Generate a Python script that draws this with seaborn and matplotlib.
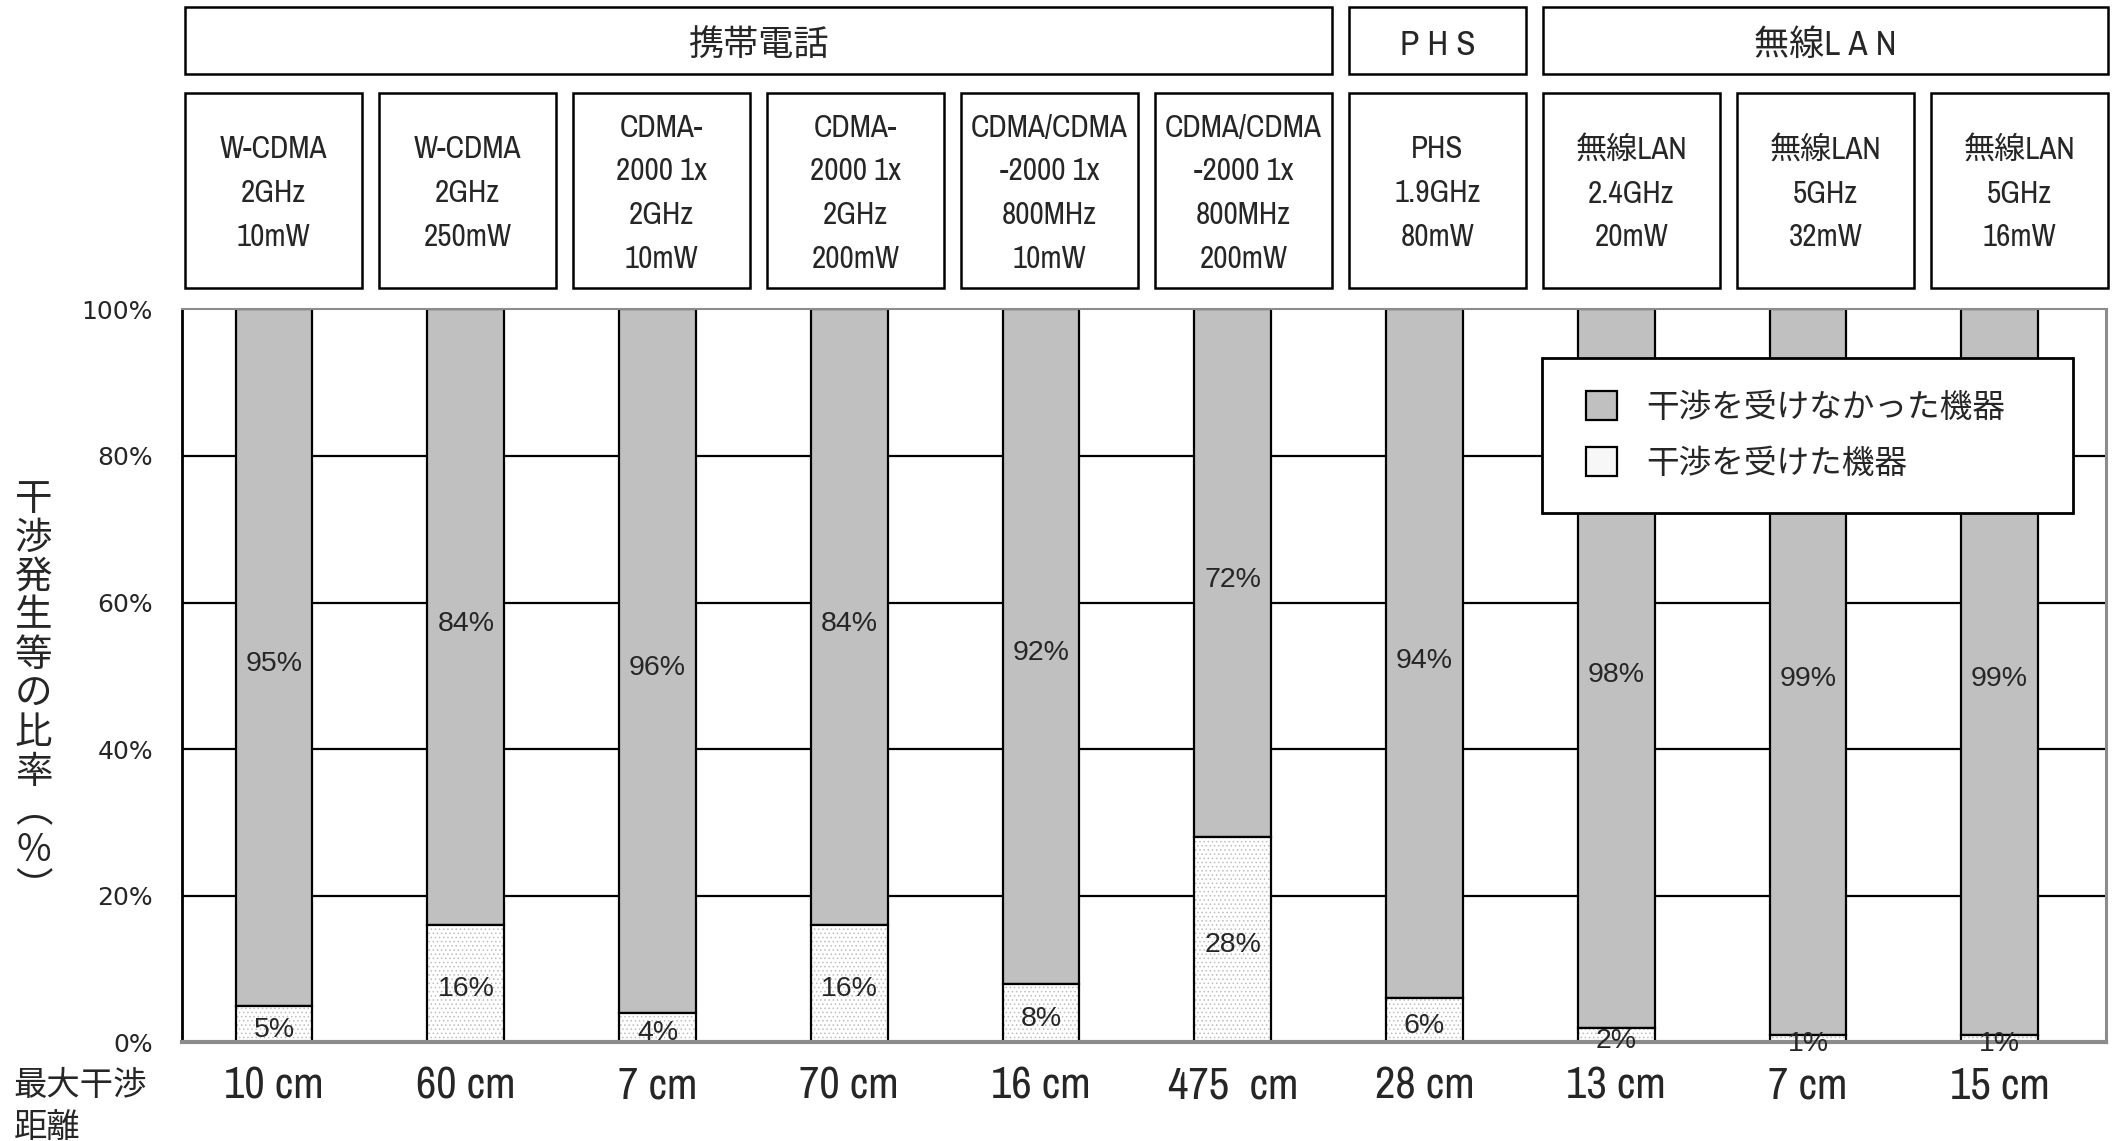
import numpy as np
import pandas as pd
import matplotlib
matplotlib.use("Agg")
import matplotlib.pyplot as plt
import seaborn as sns
from matplotlib import font_manager
from matplotlib.font_manager import FontProperties
from matplotlib.legend_handler import HandlerPatch
from matplotlib.patches import Patch, Rectangle

# ---- data -------------------------------------------------------------
devices = [
    "W-CDMA\n2GHz\n10mW",
    "W-CDMA\n2GHz\n250mW",
    "CDMA-\n2000 1x\n2GHz\n10mW",
    "CDMA-\n2000 1x\n2GHz\n200mW",
    "CDMA/CDMA\n-2000 1x\n800MHz\n10mW",
    "CDMA/CDMA\n-2000 1x\n800MHz\n200mW",
    "PHS\n1.9GHz\n80mW",
    "無線LAN\n2.4GHz\n20mW",
    "無線LAN\n5GHz\n32mW",
    "無線LAN\n5GHz\n16mW",
]
groups = ["携帯電話", "P H S", "無線L A N"]
group_first = [0, 6, 7]
group_last = [5, 6, 9]
distances = ["10 cm", "60 cm", "7 cm", "70 cm", "16 cm", "475  cm",
             "28 cm", "13 cm", "7 cm", "15 cm"]
not_interfered = [95, 84, 96, 84, 92, 72, 94, 98, 99, 99]
interfered = [5, 16, 4, 16, 8, 28, 6, 2, 1, 1]
yticks = [0, 20, 40, 60, 80, 100]
ytick_labels = [f"{v}%" for v in yticks]
series_labels = ["干渉を受けなかった機器", "干渉を受けた機器"]
ylabel_text = "干渉発生等の比率（%）"
distance_title = "最大干渉\n距離"

# ---- fonts ------------------------------------------------------------
CJK = "Noto Sans CJK JP"
_entries = font_manager.fontManager.ttflist
_installed = {f.name for f in _entries}


def families(*names):
    return [n for n in names if n in _installed]


def find_condensed():
    for f in _entries:
        if "Narrow" in f.name or "Condensed" in f.name:
            return f.name, "normal"
    for f in _entries:
        st = f.stretch
        if (isinstance(st, str) and "condensed" in st) or \
                (isinstance(st, (int, float)) and st < 500):
            return f.name, st
    return None


_cond = find_condensed()
PLAIN = families("Liberation Sans", "DejaVu Sans") + [CJK]
if _cond is not None:
    NARROW = FontProperties(family=[_cond[0], CJK], stretch=_cond[1])
    narrow_scale = 1.15
else:
    NARROW = FontProperties(family=PLAIN)
    narrow_scale = 1.0


def narrow(size):
    fp = NARROW.copy()
    fp.set_size(size * narrow_scale)
    return fp


sns.set_theme(style="white")
plt.rcParams["font.family"] = ["DejaVu Sans", CJK]
plt.rcParams["hatch.linewidth"] = 0.6

GREY = "#c0c0c0"

df = pd.DataFrame({
    "device": devices,
    "distance": distances,
    "not_interfered": not_interfered,
    "interfered": interfered,
})

# ---- layout (units of a 1568 x 845 grid) -------------------------------
GW, GH = 1568.0, 845.0


def fx(u):
    return u / GW


def fy(v):
    return 1.0 - v / GH


fig = plt.figure(figsize=(21.17, 11.41), dpi=100)
ax = fig.add_axes([fx(135), fy(772), fx(1560) - fx(135), fy(229) - fy(772)])

# ---- stacked bars -----------------------------------------------------
bar_w = 0.4
sns.barplot(data=df, x="device", y="not_interfered",
            bottom=df["interfered"].to_numpy(), color=GREY, saturation=1,
            width=bar_w, edgecolor="black", linewidth=1.6, errorbar=None, ax=ax)
sns.barplot(data=df, x="device", y="interfered", color="white", saturation=1,
            width=bar_w, hatch="....", edgecolor="#bdbdbd", linewidth=0,
            errorbar=None, ax=ax)
sns.barplot(data=df, x="device", y="interfered", color="black", fill=False,
            width=bar_w, linewidth=1.6, errorbar=None, ax=ax)

ax.bar_label(ax.containers[0], labels=[f"{v}%" for v in not_interfered],
             label_type="center", padding=-5, fontsize=20.5, family=PLAIN)
ax.bar_label(ax.containers[2], labels=[f"{v}%" for v in interfered],
             label_type="center", padding=-4, fontsize=20.5, family=PLAIN)

# ---- axes -------------------------------------------------------------
ax.set_xlim(-0.479, 9.556)
ax.set_ylim(0, 100)
ax.set_xticks(range(len(distances)), distances)
ax.set_yticks(yticks, ytick_labels)
ax.set_xlabel("")
ax.set_ylabel("")
ax.tick_params(axis="x", length=0, pad=17)
for lab in ax.get_xticklabels():
    lab.set_fontproperties(narrow(28))
ax.tick_params(axis="y", length=0, pad=21, labelsize=18)

ax.set_axisbelow(True)
ax.yaxis.grid(True, color="black", linewidth=1.6)
grid = ax.get_ygridlines()
grid[0].set_visible(False)
grid[-1].set_visible(False)

ax.spines["left"].set_color("black")
ax.spines["left"].set_linewidth(2)
ax.spines["top"].set_color("#8c8c8c")
ax.spines["top"].set_linewidth(1.5)
ax.spines["right"].set_color("#8c8c8c")
ax.spines["right"].set_linewidth(2.2)
ax.spines["bottom"].set_color("#8c8c8c")
ax.spines["bottom"].set_linewidth(3)

# ---- legend -----------------------------------------------------------
handles = [
    Patch(facecolor=GREY, edgecolor="black", linewidth=1.6),
    Patch(facecolor="#f7f7f7", edgecolor="black", linewidth=1.6),
]
leg = ax.legend(handles, series_labels, loc="upper left",
                bbox_to_anchor=(0.707, 0.934, 0.276, 0), mode="expand",
                borderaxespad=0, borderpad=1.02, handlelength=1.25,
                handleheight=1.0, handletextpad=0.9, labelspacing=0.72,
                fancybox=False, framealpha=1, edgecolor="black",
                handler_map={Patch: HandlerPatch(xpad=0.3)},
                prop={"family": [CJK], "size": 23.5})
leg.get_frame().set_linewidth(2)

# ---- device header boxes ----------------------------------------------
box_w = 131.0
pitch = 143.7
left0 = 137.0
for i, name in enumerate(devices):
    left = left0 + pitch * i
    fig.add_artist(Rectangle((fx(left), fy(213)), fx(box_w), (213 - 69) / GH,
                             transform=fig.transFigure, fill=False,
                             edgecolor="black", linewidth=1.8))
    fig.text(fx(left + box_w / 2), fy(143), name, ha="center", va="center",
             fontproperties=narrow(19.5), linespacing=1.68,
             multialignment="center")

for name, a, b in zip(groups, group_first, group_last):
    left = left0 + pitch * a
    right = left0 + pitch * b + box_w
    fig.add_artist(Rectangle((fx(left), fy(55)), fx(right - left), (55 - 5) / GH,
                             transform=fig.transFigure, fill=False,
                             edgecolor="black", linewidth=1.8))
    fig.text(fx((left + right) / 2), fy(33), name, ha="center", va="center",
             fontproperties=narrow(22))

# ---- axis titles ------------------------------------------------------
vertical = "\n".join(ylabel_text.replace("（", "︵").replace("）", "︶"))
fig.text(fx(25), fy(514), vertical, ha="center", va="center",
         fontsize=27, family=[CJK], linespacing=1.0)
fig.text(fx(10), fy(791), distance_title, ha="left", va="top",
         fontsize=24, family=[CJK], linespacing=1.25)

fig.savefig("out.png", dpi=100)
